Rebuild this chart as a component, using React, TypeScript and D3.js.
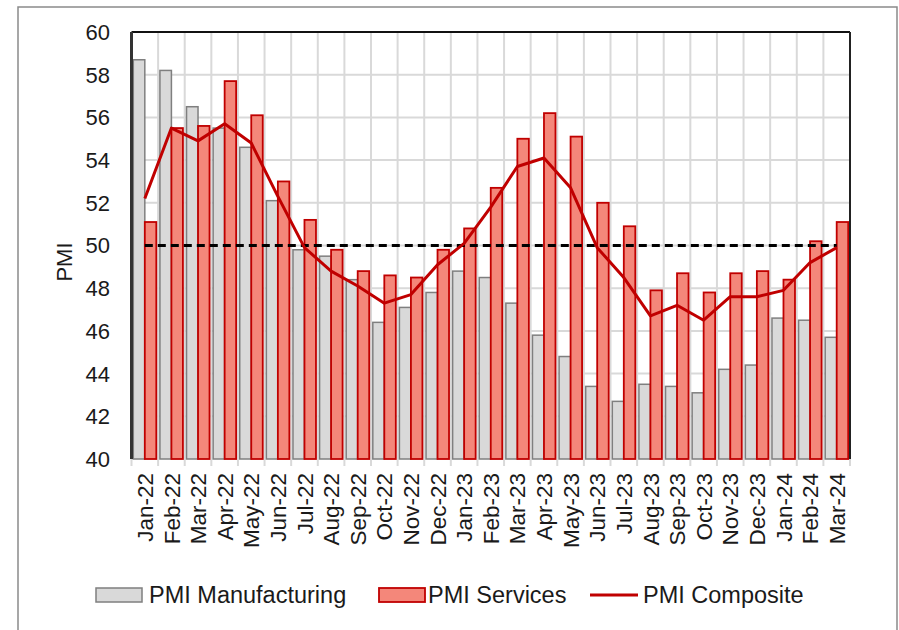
import React from "react";
import * as d3 from "d3";

const categories = [
  "Jan-22","Feb-22","Mar-22","Apr-22","May-22","Jun-22","Jul-22","Aug-22","Sep-22","Oct-22","Nov-22","Dec-22",
  "Jan-23","Feb-23","Mar-23","Apr-23","May-23","Jun-23","Jul-23","Aug-23","Sep-23","Oct-23","Nov-23","Dec-23",
  "Jan-24","Feb-24","Mar-24",
];
const manufacturing = [
  58.7, 58.2, 56.5, 55.5, 54.6, 52.1, 49.8, 49.5, 48.4, 46.4, 47.1, 47.8,
  48.8, 48.5, 47.3, 45.8, 44.8, 43.4, 42.7, 43.5, 43.4, 43.1, 44.2, 44.4,
  46.6, 46.5, 45.7,
];
const services = [
  51.1, 55.5, 55.6, 57.7, 56.1, 53.0, 51.2, 49.8, 48.8, 48.6, 48.5, 49.8,
  50.8, 52.7, 55.0, 56.2, 55.1, 52.0, 50.9, 47.9, 48.7, 47.8, 48.7, 48.8,
  48.4, 50.2, 51.1,
];
const composite = [
  52.2, 55.5, 54.9, 55.7, 54.8, 52.3, 49.9, 48.8, 48.1, 47.3, 47.7, 49.1,
  50.1, 51.8, 53.7, 54.1, 52.7, 49.9, 48.5, 46.7, 47.2, 46.5, 47.6, 47.6,
  47.9, 49.2, 49.9,
];
const yTicks = [40, 42, 44, 46, 48, 50, 52, 54, 56, 58, 60];
const threshold = 50;
const seriesNames = ["PMI Manufacturing", "PMI Services", "PMI Composite"];

const W = 899;
const H = 630;
const FONT = "Liberation Sans, Arial, sans-serif";
const TEXT = "#1a1a1a";

export default function App() {
  const left = 131.5, right = 850, top = 32, bottom = 459;
  const x = d3.scaleBand<string>().domain(categories).range([left, right]).paddingInner(0).paddingOuter(0);
  const sub = d3.scaleBand<string>().domain(["m", "s"]).range([0, x.bandwidth()]).paddingInner(0).paddingOuter(0.157);
  const y = d3.scaleLinear().domain([40, 60]).range([bottom, top]);
  const cx = (c: string) => (x(c) as number) + x.bandwidth() / 2;

  const line = d3
    .line<number>()
    .x((_, i) => cx(categories[i]))
    .y((d) => y(d));

  const gridX = categories.map((c) => x(c) as number).concat([right]);

  return (
    <svg width={W} height={H} style={{ position: "absolute", left: 0, top: 0, background: "#fff" }} fontFamily={FONT}>
      <rect x={0} y={0} width={W} height={H} fill="#fff" />
      <rect x={18} y={7} width={879} height={640} fill="none" stroke="#8a8a8a" strokeWidth={1.5} />

      {/* horizontal gridlines */}
      {yTicks.filter((t) => t > 40 && t < 60).map((t) => (
        <line key={"h" + t} x1={left} x2={right} y1={y(t)} y2={y(t)} stroke="#d9d9d9" strokeWidth={2} />
      ))}
      {/* vertical gridlines with tick marks below */}
      {gridX.map((gx, i) => (
        <line key={"v" + i} x1={gx} x2={gx} y1={top} y2={bottom + 7} stroke="#d9d9d9" strokeWidth={2} />
      ))}

      {/* manufacturing bars */}
      {categories.map((c, i) => (
        <rect
          key={"m" + c}
          x={(x(c) as number) + (sub("m") as number)}
          y={y(manufacturing[i])}
          width={sub.bandwidth()}
          height={bottom - y(manufacturing[i])}
          fill="#d9d9d9"
          stroke="#7f7f7f"
          strokeWidth={1.5}
        />
      ))}
      {/* services bars */}
      {categories.map((c, i) => (
        <rect
          key={"s" + c}
          x={(x(c) as number) + (sub("s") as number)}
          y={y(services[i])}
          width={sub.bandwidth()}
          height={bottom - y(services[i])}
          fill="#f4877a"
          stroke="#c00000"
          strokeWidth={1.8}
        />
      ))}

      {/* 50 threshold */}
      <line
        x1={cx(categories[0])}
        x2={cx(categories[categories.length - 1])}
        y1={y(threshold)}
        y2={y(threshold)}
        stroke="#000"
        strokeWidth={3}
        strokeDasharray="8 5"
      />

      {/* composite line */}
      <path d={line(composite) || ""} fill="none" stroke="#c00000" strokeWidth={3} strokeLinejoin="round" />

      {/* plot frame */}
      <line x1={left} x2={right} y1={top} y2={top} stroke="#111" strokeWidth={2} />
      <line x1={left} x2={left} y1={top} y2={bottom} stroke="#333" strokeWidth={3} />
      <line x1={right} x2={right} y1={top} y2={bottom} stroke="#222" strokeWidth={2} />

      {/* y ticks */}
      {yTicks.map((t) => (
        <text key={"yt" + t} x={110} y={y(t)} dy="0.36em" textAnchor="end" fontSize={22} fill={TEXT}>
          {t}
        </text>
      ))}
      <text transform={`translate(72,262) rotate(-90)`} textAnchor="middle" fontSize={22} fill={TEXT}>
        PMI
      </text>

      {/* x labels */}
      {categories.map((c) => (
        <text
          key={"xl" + c}
          transform={`translate(${cx(c)},${bottom + 14}) rotate(-90)`}
          textAnchor="end"
          dy="0.36em"
          fontSize={22.5}
          fill={TEXT}
        >
          {c}
        </text>
      ))}

      {/* legend */}
      <rect x={96} y={588} width={46} height={14} fill="#d9d9d9" stroke="#7f7f7f" strokeWidth={1.5} />
      <text x={149} y={595} dy="0.36em" fontSize={23.5} fill={TEXT}>{seriesNames[0]}</text>
      <rect x={379} y={588} width={46} height={14} fill="#f4877a" stroke="#c00000" strokeWidth={1.8} />
      <text x={428} y={595} dy="0.36em" fontSize={23.5} fill={TEXT}>{seriesNames[1]}</text>
      <line x1={590} x2={638} y1={595} y2={595} stroke="#c00000" strokeWidth={3} />
      <text x={643} y={595} dy="0.36em" fontSize={23.5} fill={TEXT}>{seriesNames[2]}</text>
    </svg>
  );
}
